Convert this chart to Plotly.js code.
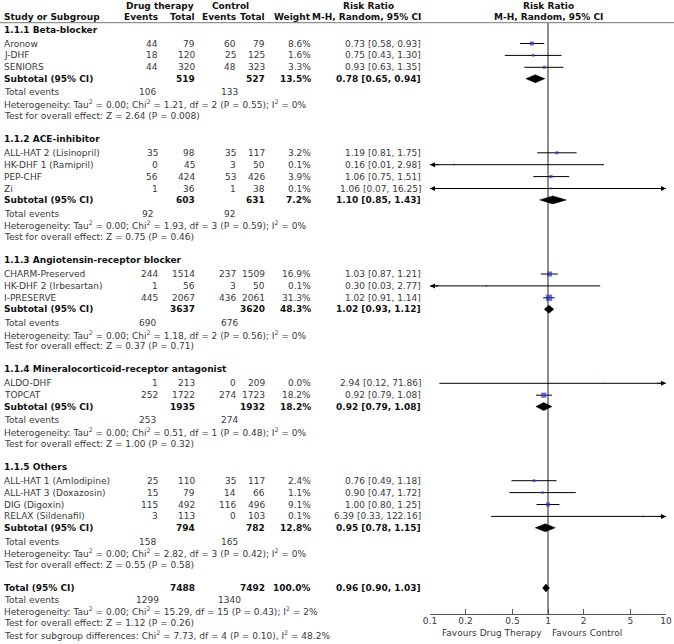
<!DOCTYPE html>
<html><head><meta charset="utf-8">
<script src="https://cdn.plot.ly/plotly-3.0.1.min.js"></script>
<style>html,body{margin:0;padding:0;background:#fff}#chart{width:674px;height:644px}</style>
</head><body><div id="chart"></div>
<script>
// ---------------- DATA ----------------
const groupNames = ['1.1.1 Beta-blocker', '1.1.2 ACE-inhibitor', '1.1.3 Angiotensin-receptor blocker',
  '1.1.4 Mineralocorticoid-receptor antagonist', '1.1.5 Others'];
const studyNames = ['Aronow', 'J-DHF', 'SENIORS',
  'ALL-HAT 2 (Lisinopril)', 'HK-DHF 1 (Ramipril)', 'PEP-CHF', 'Zi',
  'CHARM-Preserved', 'HK-DHF 2 (Irbesartan)', 'I-PRESERVE',
  'ALDO-DHF', 'TOPCAT',
  'ALL-HAT 1 (Amlodipine)', 'ALL-HAT 3 (Doxazosin)', 'DIG (Digoxin)', 'RELAX (Sildenafil)'];
const studyGroup = [0,0,0, 1,1,1,1, 2,2,2, 3,3, 4,4,4,4];
const drugEvents = [44,18,44, 35,0,56,1, 244,1,445, 1,252, 25,15,115,3];
const drugTotal  = [79,120,320, 98,45,424,36, 1514,56,2067, 213,1722, 110,79,492,113];
const ctrlEvents = [60,25,48, 35,3,53,1, 237,3,436, 0,274, 35,14,116,0];
const ctrlTotal  = [79,125,323, 117,50,426,38, 1509,50,2061, 209,1723, 117,66,496,103];
const weightPct  = [8.6,1.6,3.3, 3.2,0.1,3.9,0.1, 16.9,0.1,31.3, 0.0,18.2, 2.4,1.1,9.1,0.1];
const rr   = [0.73,0.75,0.93, 1.19,0.16,1.06,1.06, 1.03,0.30,1.02, 2.94,0.92, 0.76,0.90,1.00,6.39];
const ciLo = [0.58,0.43,0.63, 0.81,0.01,0.75,0.07, 0.87,0.03,0.91, 0.12,0.79, 0.49,0.47,0.80,0.33];
const ciHi = [0.93,1.30,1.35, 1.75,2.98,1.51,16.25, 1.21,2.77,1.14, 71.86,1.08, 1.18,1.72,1.25,122.16];

const subDrugTotal  = [519,603,3637,1935,794];
const subCtrlTotal  = [527,631,3620,1932,782];
const subWeight     = [13.5,7.2,48.3,18.2,12.8];
const subRR   = [0.78,1.10,1.02,0.92,0.95];
const subLo   = [0.65,0.85,0.93,0.79,0.78];
const subHi   = [0.94,1.43,1.12,1.08,1.15];
const subDrugEvents = [106,92,690,253,158];
const subCtrlEvents = [133,92,676,274,165];
const hetTau = ['0.00','0.00','0.00','0.00','0.00'];
const hetChi = [1.21,1.93,1.18,0.51,2.82];
const hetDf  = [2,3,2,1,3];
const hetP   = [0.55,0.59,0.56,0.48,0.42];
const hetI2  = [0,0,0,0,0];
const testZ  = [2.64,0.75,0.37,1.00,0.55];
const testP  = ['0.008','0.46','0.71','0.32','0.58'];

const totDrugTotal = 7488, totCtrlTotal = 7492, totWeight = 100.0;
const totRR = 0.96, totLo = 0.90, totHi = 1.03;
const totDrugEvents = 1299, totCtrlEvents = 1340;
const totHet = {tau:'0.00', chi:15.29, df:15, p:0.43, i2:2};
const totTest = {z:1.12, p:'0.26'};
const subgroupTest = {chi:7.73, df:4, p:0.10, i2:48.2};

const tickVals = [0.1,0.2,0.5,1,2,5,10];
const tickText = ['0.1','0.2','0.5','1','2','5','10'];
const xMin = 0.1, xMax = 10;

// ---------------- LAYOUT (pixel positions) ----------------
const W = 674, H = 644;
const FONT = '"DejaVu Sans", sans-serif';
const FS = 9;
const C_TXT = '#3a3a3a';
const col = {name:3, dEv:159, dTot:196, cEv:237, cTot:266, wt:312, ci:422, teD:147, teC:229};
const Y0 = 29.5, A = 14, S = 11.9, SUB = 11.4, B = 13.7, S2 = 11.7, G = 23;
const axisY = 614, headLineY = 22.7;

const headY = [], subY = [], teY = [], hetY = [], testY = [], studyY = [];
let y = Y0;
for (let g = 0; g < groupNames.length; g++) {
  headY[g] = y; y += A;
  const idx = studyGroup.map((v,i)=>v===g?i:-1).filter(i=>i>=0);
  idx.forEach((i,k) => { studyY[i] = y; if (k < idx.length-1) y += S; });
  y += SUB; subY[g] = y;
  y += B; teY[g] = y;
  y += S2; hetY[g] = y;
  y += S2; testY[g] = y;
  y += G;
}
const totY = y, totTeY = y + 11.6, totHetY = totTeY + S2, totTestY = totHetY + S2, sgY = totTestY + S2;

const ann = [];
function T(x, yy, text, anchor, extra) {
  ann.push(Object.assign({xref:'paper', yref:'y', x: x/W, y: yy, text: text, showarrow:false,
    xanchor: anchor || 'left', yanchor:'middle', borderpad:0,
    font:{family:FONT, size:FS, color:C_TXT}}, extra || {}));
}
const f2 = v => v.toFixed(2);
const ciStr = (r,l,h) => `${f2(r)} [${f2(l)}, ${f2(h)}]`;
const B_ = s => `<b>${s}</b>`;
const BF = {font:{family:FONT, size:FS, color:'#111'}};

// headers
T(160, 5.5, B_('Drug therapy'), 'center', BF);
T(230, 5.5, B_('Control'), 'center', BF);
T(368, 5.5, B_('Risk Ratio'), 'center', BF);
T(548, 5.5, B_('Risk Ratio'), 'center', BF);
T(col.name, 16.7, B_('Study or Subgroup'), 'left', BF);
T(col.dEv, 16.7, B_('Events'), 'right', BF);
T(col.dTot, 16.7, B_('Total'), 'right', BF);
T(col.cEv, 16.7, B_('Events'), 'right', BF);
T(col.cTot, 16.7, B_('Total'), 'right', BF);
T(col.wt, 16.7, B_('Weight'), 'right', BF);
T(col.ci, 16.7, B_('M-H, Random, 95% CI'), 'right', BF);
T(548, 16.7, B_('M-H, Random, 95% CI'), 'center', BF);

const sup2 = '<sup>2</sup>';
for (let g = 0; g < groupNames.length; g++) {
  T(col.name, headY[g], B_(groupNames[g]), 'left', BF);
  T(col.name, subY[g], B_('Subtotal (95% CI)'), 'left', BF);
  T(col.dTot, subY[g], B_(String(subDrugTotal[g])), 'right', BF);
  T(col.cTot, subY[g], B_(String(subCtrlTotal[g])), 'right', BF);
  T(col.wt, subY[g], B_(subWeight[g].toFixed(1) + '%'), 'right', BF);
  T(col.ci, subY[g], B_(ciStr(subRR[g], subLo[g], subHi[g])), 'right', BF);
  T(col.name, teY[g], 'Total events', 'left');
  T(col.teD, teY[g], String(subDrugEvents[g]), 'center');
  T(col.teC, teY[g], String(subCtrlEvents[g]), 'center');
  T(col.name, hetY[g], `Heterogeneity: Tau${sup2} = ${hetTau[g]}; Chi${sup2} = ${f2(hetChi[g])}, df = ${hetDf[g]} (P = ${f2(hetP[g])}); I${sup2} = ${hetI2[g]}%`, 'left');
  T(col.name, testY[g], `Test for overall effect: Z = ${f2(testZ[g])} (P = ${testP[g]})`, 'left');
}
studyNames.forEach((n,i) => {
  const yy = studyY[i];
  T(col.name, yy, n, 'left');
  T(col.dEv, yy, String(drugEvents[i]), 'right');
  T(col.dTot, yy, String(drugTotal[i]), 'right');
  T(col.cEv, yy, String(ctrlEvents[i]), 'right');
  T(col.cTot, yy, String(ctrlTotal[i]), 'right');
  T(col.wt, yy, weightPct[i].toFixed(1) + '%', 'right');
  T(col.ci, yy, ciStr(rr[i], ciLo[i], ciHi[i]), 'right');
});
T(col.name, totY, B_('Total (95% CI)'), 'left', BF);
T(col.dTot, totY, B_(String(totDrugTotal)), 'right', BF);
T(col.cTot, totY, B_(String(totCtrlTotal)), 'right', BF);
T(col.wt, totY, B_(totWeight.toFixed(1) + '%'), 'right', BF);
T(col.ci, totY, B_(ciStr(totRR, totLo, totHi)), 'right', BF);
T(col.name, totTeY, 'Total events', 'left');
T(col.teD, totTeY, String(totDrugEvents), 'center');
T(col.teC, totTeY, String(totCtrlEvents), 'center');
T(col.name, totHetY, `Heterogeneity: Tau${sup2} = ${totHet.tau}; Chi${sup2} = ${f2(totHet.chi)}, df = ${totHet.df} (P = ${f2(totHet.p)}); I${sup2} = ${totHet.i2}%`, 'left');
T(col.name, totTestY, `Test for overall effect: Z = ${f2(totTest.z)} (P = ${totTest.p})`, 'left');
T(col.name, sgY, `Test for subgroup differences: Chi${sup2} = ${f2(subgroupTest.chi)}, df = ${subgroupTest.df} (P = ${f2(subgroupTest.p)}), I${sup2} = ${subgroupTest.i2.toFixed(1)}%`, 'left');
T(543, 633, 'Favours Drug Therapy', 'right');
T(551, 633, 'Favours Control', 'left');

// ---------------- TRACES ----------------
const traces = [];
// null line
traces.push({x:[1,1], y:[headLineY, axisY], mode:'lines', line:{color:'#6a6a6a', width:1.5}, hoverinfo:'skip'});
// CI whiskers
const lx = [], ly = [];
studyNames.forEach((n,i) => { lx.push(ciLo[i], ciHi[i], null); ly.push(studyY[i], studyY[i], null); });
traces.push({x:lx, y:ly, mode:'lines', line:{color:'#000', width:1}, hoverinfo:'skip'});
// squares
traces.push({x:rr, y:studyY, mode:'markers', hoverinfo:'skip', cliponaxis:false,
  marker:{symbol:'square', color:'#2233cc', size: weightPct.map(w => 1.5 + Math.sqrt(w)*0.85), line:{width:0}}});
// diamonds
const DH = 4;
function diamond(r,l,h,yy) {
  traces.push({x:[l, r, h, r, l], y:[yy, yy-DH, yy, yy+DH, yy], mode:'lines', fill:'toself',
    fillcolor:'#000', line:{color:'#000', width:0.5}, hoverinfo:'skip'});
}
for (let g = 0; g < groupNames.length; g++) diamond(subRR[g], subLo[g], subHi[g], subY[g]);
diamond(totRR, totLo, totHi, totY);

// arrows for CIs beyond the axis range
studyNames.forEach((n,i) => {
  if (ciLo[i] < xMin) ann.push({xref:'x', yref:'y', x:Math.log10(xMin), y:studyY[i], ax:10, ay:0,
    showarrow:true, arrowhead:2, arrowsize:1, arrowwidth:1, arrowcolor:'#000', text:'', standoff:0});
  if (ciHi[i] > xMax) ann.push({xref:'x', yref:'y', x:Math.log10(xMax), y:studyY[i], ax:-10, ay:0,
    showarrow:true, arrowhead:2, arrowsize:1, arrowwidth:1, arrowcolor:'#000', text:'', standoff:0});
});

const layout = {
  width: W, height: H, margin:{l:0, r:0, t:0, b:0},
  paper_bgcolor:'#fff', plot_bgcolor:'rgba(0,0,0,0)', showlegend:false,
  xaxis:{type:'log', range:[Math.log10(xMin), Math.log10(xMax)], domain:[430/W, 666/W],
    anchor:'free', position:(H-axisY)/H, showgrid:false, zeroline:false,
    showline:true, linecolor:'#555', linewidth:1,
    tickmode:'array', tickvals:tickVals, ticktext:tickText,
    ticks:'inside', ticklen:5, tickwidth:1, tickcolor:'#555', ticklabelstandoff:-2,
    tickfont:{family:FONT, size:FS, color:C_TXT}},
  yaxis:{range:[H, 0], domain:[0,1], visible:false, fixedrange:true},
  shapes:[{type:'line', xref:'paper', yref:'y', x0:0, x1:1, y0:headLineY, y1:headLineY,
    line:{color:'#777', width:1}}],
  annotations: ann
};
Plotly.newPlot('chart', traces, layout, {staticPlot:true, displayModeBar:false});
</script>
</body></html>
